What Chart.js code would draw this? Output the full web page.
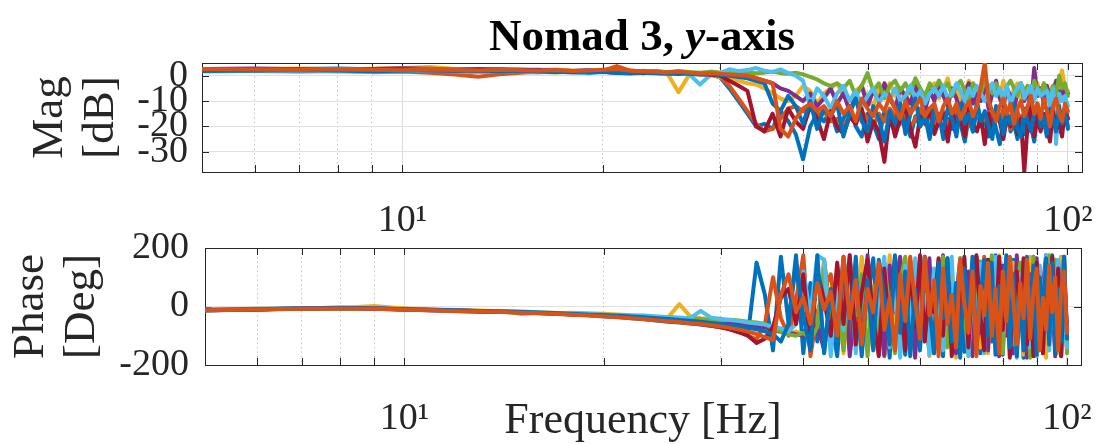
<!DOCTYPE html>
<html>
<head>
<meta charset="utf-8">
<title>Nomad 3, y-axis</title>
<script src="https://cdn.jsdelivr.net/npm/chart.js@4.4.1/dist/chart.umd.min.js"></script>
<style>
  html, body { margin: 0; padding: 0; background: #fff; }
  #wrap { position: relative; width: 1106px; height: 444px; }
  #wrap canvas { position: absolute; left: 0; top: 0; }
</style>
</head>
<body>
<div id="wrap">
  <canvas id="magChart" width="1106" height="444"></canvas>
  <canvas id="phaseChart" width="1106" height="444"></canvas>
</div>
<script>
// Frequency points [Hz]
const freqHz = [
  5, 6, 7, 8, 9, 10, 11, 12, 13, 14,
  15, 16, 17, 18, 19, 20, 21, 22, 23, 24,
  25, 26, 27, 28, 29, 30, 31, 32, 33, 34,
  35, 36, 37, 38, 39, 40, 41, 42, 43, 44,
  45, 46, 47, 48, 49, 50, 51, 52, 53, 54,
  55, 56, 57, 58, 59, 60, 61, 62, 63, 64,
  65, 66, 67, 68, 69, 70, 71, 72, 73, 74,
  75, 76, 77, 78, 79, 80, 81, 82, 83, 84,
  85, 86, 87, 88, 89, 90, 91, 92, 93, 94,
  95, 96, 97, 98, 99, 100
];

// Magnitude [dB], one array per run
const magBlueA = [
  2.2, 2.4, 2.6, 2.8, 2.5, 2.3, 2.1, 2.4, 2.2, 2.0,
  2.1, 2.3, 2.0, 1.8, 1.9, 1.6, 1.2, 1.5, 1.0, 1.4,
  1.2, 0.8, 1.0, 0.6, 0.5, -0.5, -5, -10, -15, -20,
  -19, -21, -14, -18, -23, -33, -20, -15, -18, -14,
  -22, -17, -12, -20, -24, -15, -19, -25, -14, -18,
  -22, -13, -17, -24, -16, -20, -12, -23, -18, -15,
  -25, -17, -21, -14, -19, -26, -16, -22, -13, -20,
  -17, -24, -15, -21, -27, -18, -14, -22, -19, -25,
  -16, -23, -12, -20, -26, -15, -21, -18, -24, -14,
  -19, -13, -22, -17, -15, -21
];
const magOrangeA = [
  2.0, 1.8, 1.6, 1.8, 1.4, 1.6, 1.2, 0.5, -0.4, 0.6,
  1.2, 1.5, 1.8, 1.6, 1.4, 1.9, 3.8, 2.0, 1.6, 1.8,
  1.4, 1.2, 1.0, 0.8, 0.5, -0.5, -4, -9, -14, -19,
  -22, -21, -17, -13, -12, -14, -13, -16, -14, -18,
  -17, -20, -16, -19, -14, -17, -20, -15, -18, -13,
  -16, -19, -14, -20, -17, -13, -18, -15, -21, -16,
  -14, -19, -17, -12, -18, -15, -20, -16, -13, -19,
  -17, -14, -20, -15, -18, -13, -17, -21, -16, -14,
  -19, -15, -18, -22, -16, -13, -17, -20, -15, -18,
  -14, -17, -20, -16, -13, -17
];
const magYellow = [
  2.4, 2.6, 2.8, 2.5, 2.7, 3.0, 3.4, 2.6, 2.3, 2.5,
  1.8, 2.2, 2.4, 2.0, 1.6, 2.0, 1.8, 1.7, 1.5, 1.2,
  1.0, -6.5, 0.5, 1.0, 0.2, -0.5, -1.5, -2.0, -3.0, -3.5,
  -5, -7, -9, -10, -8, -4, -6, -11, -7, -5,
  -3, -8, -10, -6, -4, -9, -12, -5, -7, -3,
  -8, -5, -10, -4, -2, -7, -11, -6, -3, -9,
  -5, -1, -8, -4, -10, -6, -2, -9, -5, -7,
  -3, -11, -6, -4, -8, -2, -7, -10, -5, -3,
  -9, -6, -4, -11, -7, -3, -8, -5, -10, -6,
  -4, -8, -2, 2, -5, -6
];
const magPurple = [
  2.6, 2.8, 2.5, 2.3, 2.6, 2.9, 2.7, 2.4, 2.6, 2.5,
  2.4, 2.2, 2.0, 1.8, 2.1, 1.9, 1.6, 1.3, 1.5, 1.1,
  0.9, 1.2, 0.8, 0.6, 0.8, 0.5, 1.0, 0.6, 0.2, -1.0,
  -2, -3, -5, -6, -8, -10, -7, -12, -9, -5,
  -11, -7, -14, -8, -4, -12, -6, -10, -3, -9,
  -13, -5, -8, -11, -4, -9, -14, -6, -10, -2,
  -8, -12, -5, -9, -15, -7, -3, -11, -6, -10,
  -4, -13, -7, -2, -9, -12, -5, -8, -14, -6,
  -3, -10, -7, -12, 3, -8, -5, -11, -4, -9,
  -6, -2, -10, -5, -8, -7
];
const magGreen = [
  2.0, 2.2, 2.4, 2.1, 1.9, 2.2, 2.5, 2.3, 2.0, 2.2,
  1.9, 1.5, 1.3, 1.6, 1.8, 2.0, 1.7, 1.5, 1.9, 1.6,
  1.4, 1.8, 1.5, 1.2, 1.6, 1.3, 1.8, 1.5, 1.2, 1.0,
  1.2, 1.6, 1.0, 0.8, 1.2, 0.5, -0.5, -1.5, -3, -4,
  -3, -5, -2, -8, -4, 1, -6, -3, -9, -4,
  -2, -6, -3, -7, -1, -5, -8, -3, -6, -2,
  -5, -3, -8, -4, -2, -6, -9, -3, -5, -7,
  -2, -4, -7, -3, -6, -10, -4, -2, -5, -8,
  -3, -6, -4, -8, -2, -5, -7, -3, -6, -9,
  -4, -7, 0, -5, -3, -8
];
const magCyan = [
  1.6, 1.8, 2.0, 1.7, 1.5, 1.8, 2.0, 1.6, 1.4, 1.7,
  1.5, 1.3, 1.6, 1.2, 1.0, 1.4, 1.1, 0.8, 1.2, 0.9,
  0.6, 1.0, 0.5, -3.5, 0.2, 1.0, 2.5, 1.8, 2.2, 3.0,
  2.0, 1.5, 2.5, 1.0, 0.0, -2.0, -12, -5, -8, -13,
  -7, -4, -10, -6, -12, -8, -5, -11, -7, -9,
  -5, -10, -8, -4, -9, -6, -11, -7, -5, -8,
  -4, -9, -7, -3, -6, -10, -5, -8, -4, -7,
  -10, -6, -3, -8, -5, -9, -4, -12, -7, -5,
  -3, -9, -6, -4, -10, -5, -8, -7, -6, -12,
  -5, -27, -7, -10, -8, -12
];
const magRed = [
  2.3, 2.1, 2.4, 2.2, 2.0, 2.3, 2.1, 1.9, 2.2, 2.0,
  1.7, 1.9, 1.6, 1.4, 1.7, 1.5, 1.2, 1.4, 1.1, 1.3,
  1.0, 0.8, 1.1, 0.7, 0.4, 0.0, -2, -4, -6, -20,
  -22, -15, -24, -13, -18, -21, -12, -17, -25, -14,
  -20, -23, -16, -19, -13, -26, -18, -22, -34, -15,
  -24, -17, -12, -21, -28, -16, -19, -13, -23, -18,
  -15, -26, -14, -20, -17, -24, -12, -19, -22, -16,
  -27, -15, -21, -13, -18, -25, -16, -20, -14, -23,
  -17, -38, -19, -13, -24, -16, -22, -15, -20, -26,
  -14, -21, -18, -24, -13, -17
];
const magBlueB = [
  1.8, 2.0, 2.2, 2.0, 1.7, 1.9, 2.2, 2.0, 1.8, 1.6,
  1.8, 1.6, 1.4, 1.7, 1.3, 1.5, 1.2, 1.0, 1.3, 1.1,
  0.9, 1.2, 0.8, 0.5, 0.8, 0.3, 0.0, -0.5, -1.0, -2.0,
  -3.0, -11, -14, -8, -12, -19, -10, -21, -13, -16,
  -11, -24, -15, -9, -18, -22, -12, -17, -26, -14,
  -19, -11, -23, -15, -9, -20, -16, -25, -12, -18,
  -21, -13, -17, -24, -11, -19, -15, -22, -10, -18,
  -14, -20, -25, -12, -17, -23, -15, -19, -11, -21,
  -24, -13, -18, -22, -15, -11, -20, -16, -23, -13,
  -17, -22, -12, -19, -14, -20
];
const magOrangeB = [
  2.6, 2.4, 2.2, 2.5, 2.3, 2.1, 2.4, 2.2, 2.0, 2.3,
  2.1, 1.9, 2.2, 1.8, 2.0, 2.3, 2.6, 1.9, 1.7, 1.5,
  1.3, 1.6, 1.2, 0.9, 1.1, 0.8, 0.5, 0.3, 0.0, -1.0,
  -2.0, -3.0, -21, -24, -17, -13, -11, -14, -12, -16,
  -10, -15, -12, -18, -9, -13, -16, -11, -14, -8,
  -13, -17, -10, -15, -12, -9, -16, -13, -11, -18,
  -12, -9, -15, -11, -17, -13, -10, -16, -12, -4,
  5, -10, -14, -18, -12, -9, -15, -11, -19, -13,
  -10, -16, -12, -8, -15, -11, -17, -9, -14, -20,
  -12, -9, -15, -18, -11, -14
];

// Phase [deg], same run order
const phBlueA = [
  -14, -10, -6, -4, -6, -8, -11, -13, -16, -18,
  -20, -22, -25, -27, -30, -33, -36, -40, -44, -48,
  -52, -55, -58, -62, -66, -70, -76, -84, -95, 150,
  40, -150, 170, -60, 175, -160, 80, -120, 160, -40,
  -170, 120, -90, 170, -150, 30, 165, -130, 90, -175,
  140, -60, -165, 155, -20, -150, 170, 60, -140, 110,
  -170, 150, -80, 20, 165, -155, 100, -30, 170, -160,
  40, 160, -120, 175, -70, -165, 130, -10, 160, -150,
  90, -175, 150, -50, 170, -140, 60, -160, 165, -90,
  175, -130, 120, -165, 150, -140
];
const phOrangeA = [
  -12, -9, -7, -6, -8, -10, -12, -15, -19, -18,
  -20, -23, -25, -27, -29, -32, -35, -38, -42, -45,
  -49, -53, -57, -61, -66, -71, -78, -88, -100, -112,
  -60, 100, -40, -100, 20, 175, -170, -20, 60, 110,
  -60, 80, -150, 40, -30, 120, -100, 20, -170, 60,
  150, -80, 10, 170, -120, 50, -40, 140, -160, 90,
  -20, 165, -110, 30, 150, -70, 100, -150, 70, -10,
  170, -140, 80, -40, 160, -90, 50, 120, -160, 20,
  -80, 150, -120, 90, 40, -170, 110, -60, 160, -30,
  130, -110, 60, 170, -20, -100
];
const phYellow = [
  -11, -8, -6, -5, 2, -7, -10, -12, -14, -16,
  -17, -20, -22, -21, -23, -25, -27, -30, -32, -35,
  -37, 8, -34, -40, -43, -46, -48, -50, -55, -60,
  -70, -80, -88, -92, -85, -95, -110, -70, 150, -60,
  100, -160, 60, -90, 170, -20, -140, 130, -60, 175,
  -110, 40, 165, -150, 90, -30, 155, -170, 20, -100,
  170, -60, 110, -175, 50, 140, -90, 10, 165, -140,
  80, -160, 130, -20, 175, -110, 60, -170, 150, -50,
  120, -165, 30, 170, -80, 145, -130, 70, -175, 160,
  -40, 110, -160, 170, 40, -120
];
const phPurple = [
  -12, -9, -6, -4, -6, -9, -14, -13, -15, -17,
  -19, -21, -23, -26, -27, -29, -31, -33, -35, -37,
  -40, -42, -45, -48, -50, -53, -55, -58, -62, -66,
  -72, -80, -86, -90, -95, -100, -105, -60, -150, 40,
  -90, 160, -170, 20, -120, 175, -50, 90, -165, 140,
  -20, 170, -130, 60, -175, 100, -80, 165, -140, 30,
  175, -110, 80, -160, 150, -40, 120, -170, 170, -90,
  60, -150, 165, -10, -170, 140, -100, 90, -160, 175,
  -60, 150, -175, 110, -30, 165, -140, 70, 175, -120,
  40, -170, 150, -80, 170, -150
];
const phGreen = [
  -13, -10, -7, -6, -8, -10, -12, -14, -16, -16,
  -25, -21, -23, -25, -26, -28, -30, -32, -34, -36,
  -38, -40, -42, -44, -46, -48, -45, -48, -52, -55,
  -60, -75, -85, -95, -100, -90, -110, -70, 130, -80,
  40, -150, 160, -30, 110, -170, 70, -100, 150, -10,
  -160, 80, 170, -120, 20, 160, -60, -150, 120, -30,
  170, -140, 50, -80, 165, -10, -165, 100, -50, 155,
  -120, 30, 175, -90, 120, -160, 60, 165, -130, 10,
  150, -100, 80, -175, 170, -40, 130, -155, 90, 175,
  -70, 160, -140, 30, 165, -160
];
const phCyan = [
  -11, -8, -6, -5, -7, -9, -11, -13, -15, -16,
  -18, -20, -22, -24, -26, -28, -30, -32, -31, -34,
  -36, -38, -40, -15, -38, -42, -46, -50, -55, -58,
  -62, -68, -75, -85, -60, 120, -30, 175, 160, -170,
  100, -80, 175, -160, 60, 150, -120, 20, 170, -140,
  80, -175, 140, -60, 165, -110, 40, -165, 130, -20,
  -150, 90, 170, -130, 10, 160, -170, 60, -100, 145,
  -160, 120, -40, 170, -150, 30, 155, -120, 90, -175,
  110, -60, 165, -140, 50, -170, 140, -90, 175, -150,
  70, -110, 160, -170, 20, -140
];
const phRed = [
  -13, -10, -7, -5, -7, -10, -12, -14, -16, -18,
  -20, -22, -24, -27, -29, -31, -34, -37, -40, -44,
  -48, -52, -56, -60, -65, -70, -78, -88, -100, -125,
  -110, -70, 30, 60, -60, 110, -140, 120, 20, -100,
  150, -60, 175, -130, 50, 160, -40, -170, 130, -90,
  170, 20, -150, 140, -70, 175, -120, 60, -20, 165,
  -100, 150, -170, 40, -60, 170, -140, 100, 175, -30,
  -150, 160, 50, -120, 170, -80, 140, -175, 30, 120,
  -60, 165, -130, 80, -170, 150, -20, -160, 110, -100,
  170, -50, 130, -170, 90, -60
];
const phBlueB = [
  -12, -9, -7, -5, -7, -9, -11, -14, -16, -17,
  -19, -21, -24, -26, -28, -30, -32, -34, -37, -40,
  -43, -46, -49, -52, -56, -60, -64, -68, -73, -78,
  -85, -95, -120, -60, 150, -30, -150, 175, -160, 60,
  -110, 170, -40, 130, -170, 90, -150, 160, 30, -130,
  175, -90, 120, -170, 60, -140, 170, 0, -160, 150,
  -40, 165, -120, 80, -175, 130, -70, 170, -150, 20,
  160, -100, 150, -165, 70, -30, 175, -140, 110, -170,
  40, -150, 170, -70, 140, -165, 100, -40, 165, -130,
  150, -160, 60, -120, 170, -110
];
const phOrangeB = [
  -13, -10, -8, -7, -8, -11, -13, -16, -17, -19,
  -21, -23, -26, -28, -31, -34, -37, -40, -43, -47,
  -50, -53, -57, -60, -64, -68, -73, -79, -86, -94,
  -105, -115, 40, 110, -20, 30, -60, 80, -10, 50,
  -100, 170, -40, 90, -130, 60, -20, 150, -80, 30,
  -150, 110, -50, 160, 20, -110, 170, -30, 90, -170,
  130, -60, 40, -140, 160, 10, -90, 120, -170, 70,
  -30, 150, -100, 60, -160, 120, -50, 170, 20, -130,
  80, -40, 160, -110, 50, 130, -150, 30, -80, 140,
  -20, 100, -150, 60, 120, -90
];

const magSeries = [magBlueA, magOrangeA, magYellow, magPurple, magGreen, magCyan, magRed, magBlueB, magOrangeB];
const phaseSeries = [phBlueA, phOrangeA, phYellow, phPurple, phGreen, phCyan, phRed, phBlueB, phOrangeB];
// matlab default line colours, cycling after 7
const seriesColors = ['#0072BD', '#D95319', '#EDB120', '#7E2F8E', '#77AC30', '#4DBEEE', '#A2142F', '#0072BD', '#D95319'];

const xGridHz = [6, 7, 8, 9, 10, 20, 30, 40, 50, 60, 70, 80, 90, 100];
const xMajorHz = [10, 100];
const xTickText = ['10\u00b9', '10\u00b2'];
const magTicks = [-30, -20, -10, 0];
const phaseTicks = [-200, 0, 200];
const titleParts = [['Nomad 3, ', 'bold'], ['y', 'italic bold'], ['-axis', 'bold']];

const FONT = "'Liberation Serif', 'Times New Roman', serif";
const INK = '#262626';

function makeDatasets(series) {
  return series.map((vals, i) => ({
    label: 'Run ' + (i + 1),
    data: freqHz.map((f, k) => ({ x: f, y: vals[k] })),
    borderColor: seriesColors[i],
    borderWidth: 4,
    pointRadius: 0,
    tension: 0,
    borderJoinStyle: 'round',
    borderCapStyle: 'round',
    order: series.length - 1 - i  // last run ends up on top, like matlab
  }));
}

const isMajor = c => c.tick && xMajorHz.includes(c.tick.value);

function xAxis(tickPad, fitHeight, title) {
  return {
    type: 'logarithmic',
    min: 5,
    max: 105,
    afterBuildTicks: s => { s.ticks = xGridHz.map(v => ({ value: v })); },
    ticks: {
      autoSkip: false,
      maxRotation: 0,
      padding: tickPad,
      color: INK,
      font: { family: FONT, size: 38 },
      callback: v => xTickText[xMajorHz.indexOf(v)] || ''
    },
    grid: { drawTicks: false, lineWidth: 1, color: c => isMajor(c) ? '#dcdcdc' : '#c4c4c4' },
    border: { display: false, dash: c => isMajor(c) ? [] : [1.5, 3] },
    title: title || { display: false },
    afterFit: s => {
      s.height = fitHeight;
      // keep the plot box where it is, labels may hang over
      s.paddingLeft = 0;
      s.paddingRight = 0;
    }
  };
}

function yAxis(min, max, tickVals, tickPad, fitWidth, lines, titlePad) {
  return {
    min: min,
    max: max,
    afterBuildTicks: s => { s.ticks = tickVals.map(v => ({ value: v })); },
    ticks: { autoSkip: false, padding: tickPad, color: INK, font: { family: FONT, size: 38 } },
    grid: { drawTicks: false, color: '#e0e0e0', lineWidth: 1 },
    border: { display: false },
    title: {
      display: true,
      text: lines,
      color: INK,
      font: { family: FONT, size: 45, lineHeight: 1.15 },
      padding: { top: titlePad, bottom: 0 }
    },
    afterFit: s => {
      s.width = fitWidth;
      s.paddingTop = 0;
      s.paddingBottom = 0;
    }
  };
}

// axes box + inward tick marks
const boxPlugin = {
  id: 'matlabBox',
  beforeDatasetsDraw(chart) {
    const { ctx, chartArea: a, scales } = chart;
    ctx.save();
    ctx.strokeStyle = INK;
    ctx.lineWidth = 1;
    ctx.beginPath();
    scales.x.ticks.forEach(t => {
      const px = Math.round(scales.x.getPixelForValue(t.value)) + 0.5;
      ctx.moveTo(px, a.bottom); ctx.lineTo(px, a.bottom - 7);
      ctx.moveTo(px, a.top); ctx.lineTo(px, a.top + 7);
    });
    scales.y.ticks.forEach(t => {
      const py = Math.round(scales.y.getPixelForValue(t.value)) + 0.5;
      ctx.moveTo(a.left, py); ctx.lineTo(a.left + 7, py);
      ctx.moveTo(a.right, py); ctx.lineTo(a.right - 7, py);
    });
    ctx.stroke();
    ctx.strokeRect(Math.round(a.left) + 0.5, Math.round(a.top) + 0.5, Math.round(a.right - a.left), Math.round(a.bottom - a.top));
    ctx.restore();
  }
};

// title with the italic y
const titlePlugin = {
  id: 'mixedTitle',
  afterDraw(chart) {
    const { ctx, chartArea: a } = chart;
    ctx.save();
    ctx.fillStyle = '#000';
    ctx.textBaseline = 'alphabetic';
    let total = 0;
    const widths = titleParts.map(([txt, style]) => {
      ctx.font = style + ' 45px ' + FONT;
      const w = ctx.measureText(txt).width;
      total += w;
      return w;
    });
    let x = (a.left + a.right) / 2 - total / 2;
    titleParts.forEach(([txt, style], i) => {
      ctx.font = style + ' 45px ' + FONT;
      ctx.fillText(txt, x, 50);
      x += widths[i];
    });
    ctx.restore();
  }
};

const commonOpts = {
  responsive: false,
  animation: false,
  devicePixelRatio: 1,
  plugins: { legend: { display: false }, tooltip: { enabled: false } }
};

const magChart = new Chart(document.getElementById('magChart'), {
  type: 'line',
  data: { datasets: makeDatasets(magSeries) },
  options: Object.assign({}, commonOpts, {
    layout: { padding: { top: 63, right: 24, bottom: 0, left: 0 } },
    scales: {
      x: xAxis(26, 272),
      y: yAxis(-38, 5, magTicks, 14, 202, ['Mag', '[dB]'], 24)
    }
  }),
  plugins: [boxPlugin, titlePlugin]
});

const phaseChart = new Chart(document.getElementById('phaseChart'), {
  type: 'line',
  data: { datasets: makeDatasets(phaseSeries) },
  options: Object.assign({}, commonOpts, {
    layout: { padding: { top: 248, right: 25, bottom: 0, left: 0 } },
    scales: {
      x: xAxis(31, 79, {
        display: true,
        text: 'Frequency [Hz]',
        color: INK,
        font: { family: FONT, size: 44 },
        padding: { top: 0, bottom: -4 }
      }),
      y: yAxis(-200, 200, phaseTicks, 16, 205, ['Phase', '[Deg]'], 5)
    }
  }),
  plugins: [boxPlugin]
});
</script>
</body>
</html>
